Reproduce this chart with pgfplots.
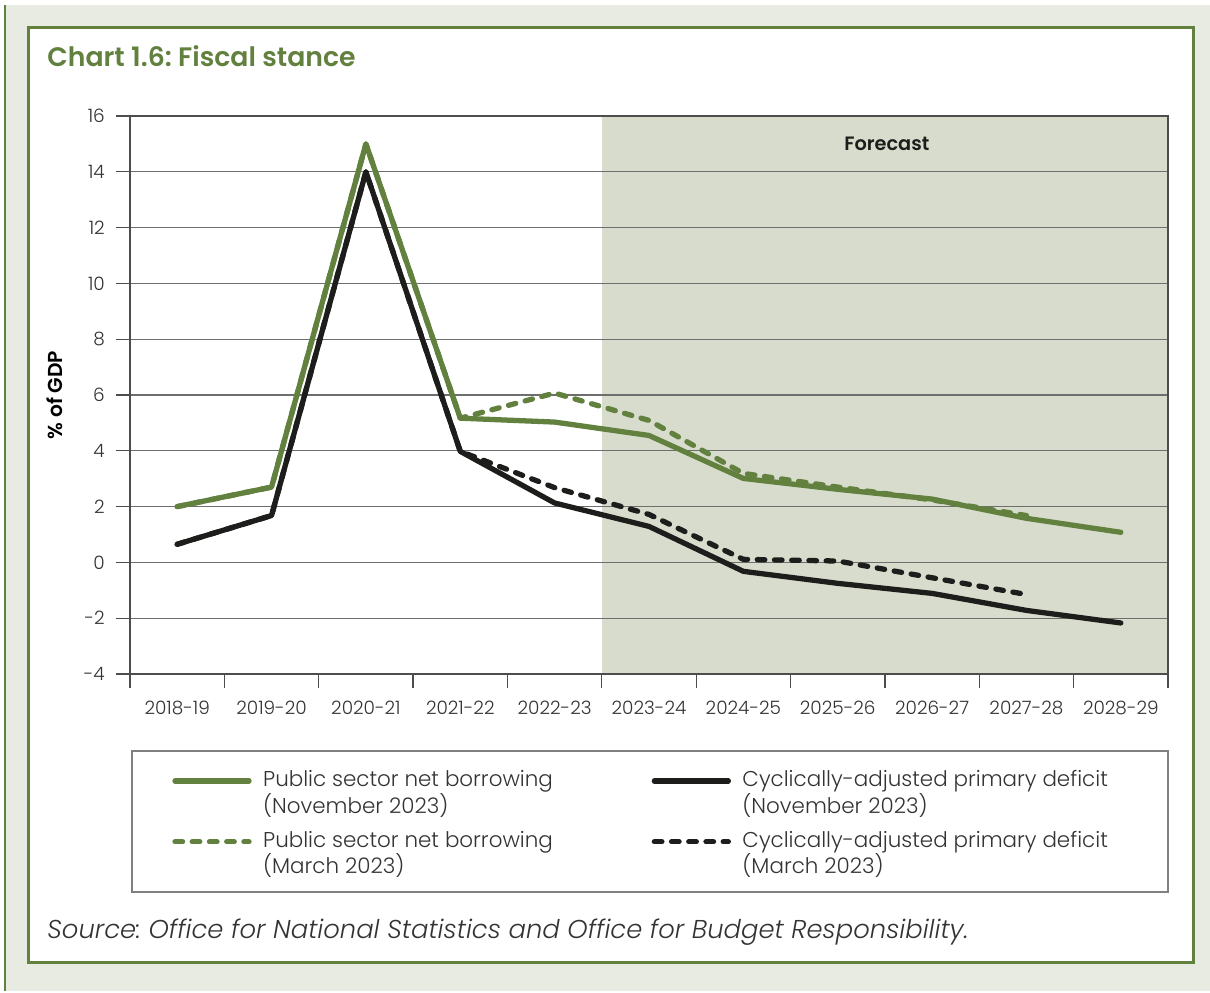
\documentclass[border=0pt]{standalone}
\usepackage{fontspec}
\setmainfont{Poppins}[UprightFont=* Light, BoldFont=* SemiBold, ItalicFont=* Light Italic, BoldItalicFont=* SemiBold Italic]
\usepackage{pgfplots}
\usepackage{pgfplotstable}
\pgfplotsset{compat=1.18}
\definecolor{ogreen}{HTML}{62803E}
\definecolor{obg}{HTML}{E8EBE2}
\definecolor{oshade}{HTML}{D8DCCD}
\definecolor{oblack}{HTML}{1D1D1B}
\definecolor{ogrid}{HTML}{6E6E6E}
\definecolor{otext}{HTML}{333333}

\pgfplotstableread{
x psnbN capdN psnbM capdM
0 2.0 0.65 2.0 0.65
1 2.7 1.68 2.7 1.68
2 15.0 14.0 15.0 14.0
3 5.17 3.98 5.17 3.98
4 5.03 2.13 6.07 2.68
5 4.55 1.29 5.09 1.72
6 3.01 -0.32 3.19 0.11
7 2.62 -0.75 2.70 0.05
8 2.27 -1.11 2.24 -0.55
9 1.58 -1.72 1.68 -1.15
10 1.08 -2.17 nan nan
}\fiscal

\pgfplotstableread{
x y
4.5 -4
4.5 16
10.5 16
10.5 -4
}\forecast

\begin{document}
\frenchspacing
\begin{tikzpicture}
\fill[white] (0,0) rectangle (24.2,-19.82);
\fill[obg] (0.1,-0.1) rectangle (24.2,-19.82);
\draw[ogreen, line width=0.05cm] (0.1,-0.1) -- (0.1,-19.82);
\filldraw[fill=white, draw=ogreen, line width=0.06cm] (0.57,-0.55) rectangle (23.87,-19.24);
\node[anchor=base west, text=ogreen, font=\fontsize{15.2}{18}\selectfont\bfseries, inner sep=0pt] at (0.94,-1.32) {Chart 1.6: Fiscal stance};
\draw[gray, line width=0.6pt] (2.64,-15.02) rectangle (23.36,-17.84);
\node[anchor=base west, font=\fontsize{14.7}{17}\selectfont\itshape, text=otext, inner sep=0pt] at (0.94,-18.76) {Source: Office for National Statistics and Office for Budget Responsibility.};

% shaded forecast period (drawn beneath the grid)
\begin{axis}[
  at={(2.6cm,-13.48cm)}, anchor=south west,
  scale only axis, width=20.76cm, height=11.16cm,
  xmin=-0.5, xmax=10.5, ymin=-4, ymax=16,
  hide axis,
]
\addplot[fill=oshade, draw=none] table[x=x, y=y] {\forecast} -- cycle;
\end{axis}

\begin{axis}[
  at={(2.6cm,-13.48cm)}, anchor=south west,
  scale only axis, width=20.76cm, height=11.16cm,
  xmin=-0.5, xmax=10.5, ymin=-4, ymax=16,
  xtick={-0.5,0.5,...,10.5}, xticklabels={},
  extra x ticks={0,1,...,10},
  extra x tick labels={2018-19,2019-20,2020-21,2021-22,2022-23,2023-24,2024-25,2025-26,2026-27,2027-28,2028-29},
  extra x tick style={major tick length=0pt, grid=none, xticklabel style={yshift=-0.42cm}},
  ytick={-4,-2,0,2,4,6,8,10,12,14,16},
  yticklabels={-4,-2,0,2,4,6,8,10,12,14,16},
  tick align=outside, xtick pos=bottom, ytick pos=left,
  major tick length=0.28cm,
  ymajorgrids, grid style={ogrid, line width=0.6pt},
  axis line style={ogrid!70!black, line width=0.7pt},
  tick style={ogrid!70!black, line width=0.7pt},
  ticklabel style={font=\fontsize{10.5}{12}\selectfont, text=otext},
  yticklabel style={xshift=-0.1cm},
  ylabel={\% of GDP},
  every axis y label/.style={at={(axis description cs:-0.0723,0.5)}, rotate=90, anchor=center, font=\fontsize{11.5}{13}\selectfont\bfseries, text=black},
  legend columns=2,
  legend style={at={(axis description cs:0.0405,-0.165)}, anchor=north west, draw=none, fill=none, inner sep=0pt,
    font=\fontsize{12.2}{15.3}\selectfont, text=otext,
    cells={anchor=base west},
    /tikz/every odd column/.append style={column sep=0.16cm},
    /tikz/every even column/.append style={column sep=0pt},
    row sep=0.70cm},
  legend image code/.code={\draw[#1] (0cm,0.3em) -- (1.48cm,0.3em);},
]
\addplot[ogreen, line width=3pt, line cap=round, line join=round] table[x=x, y=psnbN] {\fiscal};
\addlegendentry{\parbox[t]{7.7cm}{Public sector net borrowing\\(November 2023)}}
\addplot[oblack, line width=3pt, line cap=round, line join=round] table[x=x, y=capdN] {\fiscal};
\addlegendentry{\parbox[t]{8.2cm}{Cyclically-adjusted primary deficit\\(November 2023)}}
\addplot[ogreen, line width=3pt, line cap=round, line join=round, dash pattern=on 4.3pt off 5.5pt] table[x=x, y=psnbM] {\fiscal};
\addlegendentry{\parbox[t]{7.7cm}{Public sector net borrowing\\(March 2023)}}
\addplot[oblack, line width=3pt, line cap=round, line join=round, dash pattern=on 4.3pt off 5.5pt] table[x=x, y=capdM] {\fiscal};
\addlegendentry{\parbox[t]{8.2cm}{Cyclically-adjusted primary deficit\\(March 2023)}}
\node[font=\fontsize{11}{13}\selectfont\bfseries, text=oblack] at (axis cs:7.52,15) {Forecast};
\end{axis}
\end{tikzpicture}
\end{document}
